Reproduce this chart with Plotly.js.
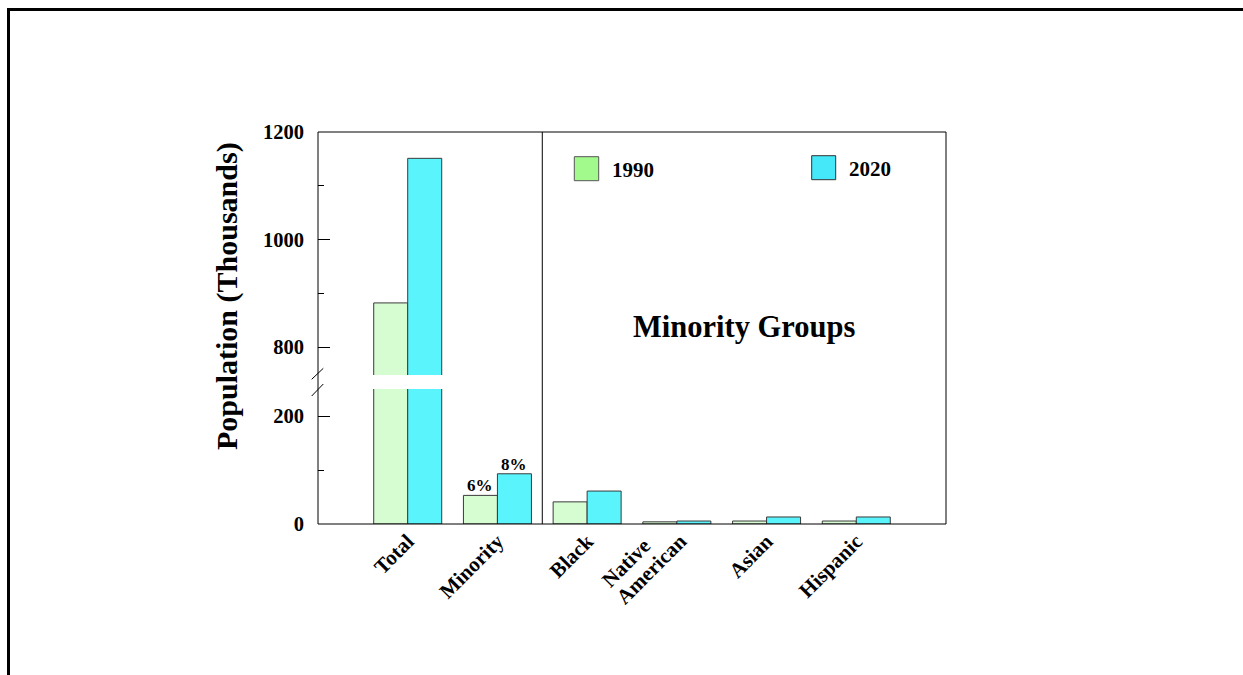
<!DOCTYPE html>
<html>
<head>
<meta charset="utf-8">
<script src="https://cdn.plot.ly/plotly-3.0.1.min.js"></script>
<style>html,body{margin:0;padding:0;background:#fff;}#chart{width:1243px;height:675px;}</style>
</head>
<body>
<div id="chart"></div>
<script>
// ---- data ----
const categories = ['Total', 'Minority', 'Black', 'Native American', 'Asian', 'Hispanic'];
const tickLabels = ['Total', 'Minority', 'Black', '', 'Asian', 'Hispanic'];
const nativeLines = ['Native', 'American'];
const pop1990 = [882, 53, 41, 4, 5.5, 5.5];
const pop2020 = [1151, 93, 61, 5.5, 13, 13];
const years = ['1990', '2020'];
const pctLabels = ['6%', '8%'];
const yTitle = 'Population (Thousands)';
const panelTitle = 'Minority Groups';

const FONT = 'Liberation Serif, Times New Roman, serif';
const fill1990 = '#d6fcd2', fill2020 = '#5af4fd';
const legend1990 = '#a2f98c', legend2020 = '#44e8f8';
const edge = '#3a3a3a';

// paper helpers (plot area: x 318..946, y 132..524)
const px = v => (v - 318) / 628;
const py = v => (524 - v) / 392;

function bar(y, color, axis, name) {
  return {type: 'bar', name: name, x: categories, y: y, xaxis: 'x', yaxis: axis,
    marker: {color: color, line: {color: edge, width: 1}}, showlegend: false, hoverinfo: 'x+y'};
}
const data = [
  bar(pop1990, fill1990, 'y', years[0]),
  bar(pop2020, fill2020, 'y', years[1]),
  bar(pop1990, fill1990, 'y2', years[0]),
  bar(pop2020, fill2020, 'y2', years[1])
];

const tickFont = {family: FONT, size: 20.5, color: '#000', weight: 'bold'};
const xFont = {family: FONT, size: 21, color: '#000', weight: 'bold'};
const yCommon = {
  dtick: 200, tick0: 0, ticks: 'inside', ticklen: 12, tickcolor: '#000', tickwidth: 1,
  minor: {ticks: 'inside', ticklen: 6, dtick: 100, tick0: 0, tickcolor: '#000'},
  showgrid: false, zeroline: false, showline: false, tickfont: tickFont,
  ticklabelstandoff: 13, anchor: 'x', fixedrange: true
};

const layout = {
  width: 1243, height: 675,
  margin: {l: 318, r: 297, t: 132, b: 151},
  paper_bgcolor: '#fff', plot_bgcolor: 'rgba(0,0,0,0)',
  barmode: 'group', bargap: 0.242, bargroupgap: 0,
  showlegend: false,
  font: {family: FONT, color: '#000'},
  xaxis: {
    type: 'category', range: [-1, 6], anchor: 'y', showgrid: false, zeroline: false,
    showline: false, ticks: '', tickangle: -45,
    tickmode: 'array', tickvals: categories, ticktext: tickLabels,
    tickfont: xFont, fixedrange: true
  },
  yaxis: Object.assign({}, yCommon, {domain: [0, py(389)], range: [0, 250]}),
  yaxis2: Object.assign({}, yCommon, {domain: [py(375), 1], range: [747.9, 1200]}),
  shapes: [
    // plot frame
    {type: 'rect', xref: 'paper', yref: 'paper', x0: 0, x1: 1, y0: 0, y1: 1, line: {color: '#000', width: 1}},
    // divider between totals and groups
    {type: 'line', xref: 'x', yref: 'paper', x0: 1.5, x1: 1.5, y0: 0, y1: 1, line: {color: '#000', width: 1}},
    // axis break marks
    {type: 'line', xref: 'paper', yref: 'paper', x0: px(311.7), y0: py(379.3), x1: px(323.3), y1: py(368.3), line: {color: '#000', width: 1}},
    {type: 'line', xref: 'paper', yref: 'paper', x0: px(311.7), y0: py(396), x1: px(323.3), y1: py(384), line: {color: '#000', width: 1}},
    // custom legend boxes
    {type: 'rect', xref: 'paper', yref: 'paper', x0: px(574.3), x1: px(598.7), y0: py(180.7), y1: py(156.7), fillcolor: legend1990, line: {color: '#555', width: 1}},
    {type: 'rect', xref: 'paper', yref: 'paper', x0: px(811.7), x1: px(835.7), y0: py(179.7), y1: py(155.7), fillcolor: legend2020, line: {color: '#333', width: 1}},
    // outer frame (top and left)
    {type: 'line', xref: 'paper', yref: 'paper', x0: px(7), x1: px(1250), y0: py(9.5), y1: py(9.5), line: {color: '#000', width: 3}},
    {type: 'line', xref: 'paper', yref: 'paper', x0: px(8.5), x1: px(8.5), y0: py(8), y1: py(690), line: {color: '#000', width: 3}}
  ],
  annotations: [
    {xref: 'paper', yref: 'paper', x: px(227), y: py(296), text: yTitle, textangle: -90, showarrow: false,
      xanchor: 'center', yanchor: 'middle', font: {family: FONT, size: 30, color: '#000', weight: 'bold'}},
    {xref: 'paper', yref: 'paper', x: px(743.5), y: py(327), text: panelTitle, showarrow: false,
      xanchor: 'center', yanchor: 'middle', font: {family: FONT, size: 30.5, color: '#000', weight: 'bold'}},
    {xref: 'paper', yref: 'paper', x: px(610), y: py(170), text: years[0], showarrow: false,
      xanchor: 'left', yanchor: 'middle', font: {family: FONT, size: 21, color: '#000', weight: 'bold'}},
    {xref: 'paper', yref: 'paper', x: px(847), y: py(169), text: years[1], showarrow: false,
      xanchor: 'left', yanchor: 'middle', font: {family: FONT, size: 21, color: '#000', weight: 'bold'}},
    {xref: 'x', yref: 'y', x: categories[1], y: pop1990[1], xshift: -17, yshift: -2, text: pctLabels[0], showarrow: false,
      xanchor: 'center', yanchor: 'bottom', font: {family: FONT, size: 17, color: '#000', weight: 'bold'}},
    {xref: 'x', yref: 'y', x: categories[1], y: pop2020[1], xshift: 17, yshift: -2, text: pctLabels[1], showarrow: false,
      xanchor: 'center', yanchor: 'bottom', font: {family: FONT, size: 17, color: '#000', weight: 'bold'}},
    // two-line rotated label for Native American
    {xref: 'paper', yref: 'paper', x: px(626), y: py(563), text: nativeLines[0], textangle: -45, showarrow: false,
      xanchor: 'center', yanchor: 'middle', font: xFont},
    {xref: 'paper', yref: 'paper', x: px(651.5), y: py(569), text: nativeLines[1], textangle: -45, showarrow: false,
      xanchor: 'center', yanchor: 'middle', font: xFont}
  ]
};

Plotly.newPlot('chart', data, layout, {displayModeBar: false, staticPlot: true});
</script>
</body>
</html>
